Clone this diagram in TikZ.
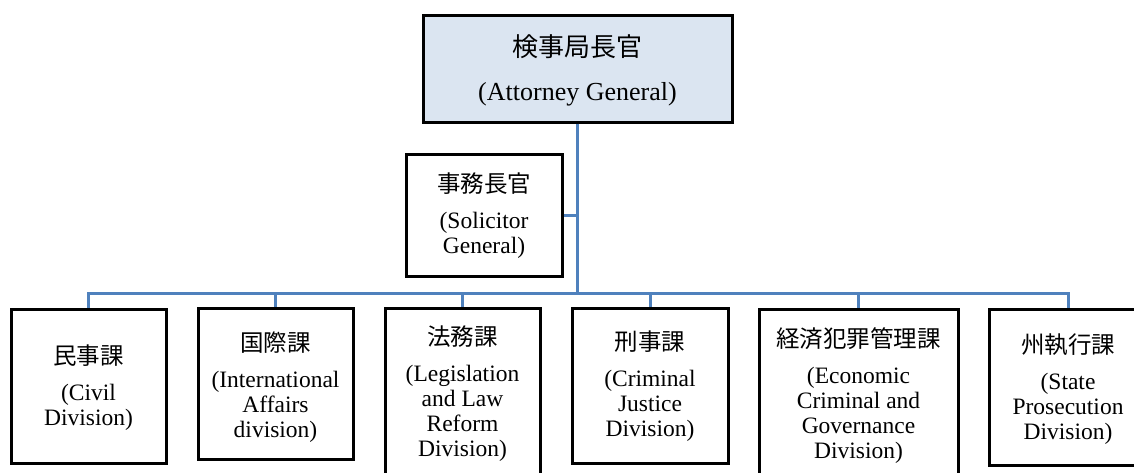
\documentclass[tikz,border=0pt]{standalone}
\usepackage{fontspec}
\setmainfont{Liberation Serif}
\newfontfamily\cjk{Noto Sans CJK JP}
\definecolor{linkblue}{HTML}{4F81BD}
\definecolor{topfill}{HTML}{DBE5F1}
\begin{document}
\begin{tikzpicture}[x=1pt,y=-1pt,
  box/.style={draw=black,line width=3pt,rectangle,inner sep=0pt,fill=white},
  lbl/.style={align=center,font=\fontsize{23.5}{25}\selectfont,inner sep=0pt},
  toplbl/.style={align=center,font=\fontsize{26}{28}\selectfont,inner sep=0pt},
  conn/.style={draw=linkblue,line width=3pt}]
\clip (0,0) rectangle (1134,472);
% boxes
\node[box,fill=topfill,minimum width=309pt,minimum height=107pt] (ag) at (577.5,68.5) {};
\node[box,minimum width=156pt,minimum height=122pt] (sg) at (484,215) {};
\node[box,minimum width=155pt,minimum height=154pt] (b1) at (88.5,386) {};
\node[box,minimum width=155pt,minimum height=151pt] (b2) at (275.5,383.5) {};
\node[box,minimum width=155pt,minimum height=177pt] (b3) at (462.5,396.5) {};
\node[box,minimum width=156pt,minimum height=155pt] (b4) at (650,385.5) {};
\node[box,minimum width=199pt,minimum height=176pt] (b5) at (858.5,397) {};
\node[box,minimum width=158pt,minimum height=156pt] (b6) at (1068,387) {};
% connectors
\coordinate (bus) at (577.5,293);
\draw[conn] (ag.south) -- (bus);
\draw[conn] (sg.east) -- (sg.east -| ag.south);
\foreach \b in {b1,b2,b3,b4,b5,b6} \draw[conn] (bus) -| (\b.north);
% labels
\node[toplbl] (agt) at (577.5,70) {{\cjk 検事局長官}\\[16pt](Attorney General)};
\node[lbl] (sgt) at (484,216) {{\cjk 事務長官}\\[11pt](Solicitor\\General)};
\node[lbl] (t1) at (88.5,387.5) {{\cjk 民事課}\\[11pt](Civil\\Division)};
\node[lbl] (t2) at (275.5,387.5) {{\cjk 国際課}\\[11pt](International\\Affairs\\division)};
\node[lbl] (t3) at (462.5,393.5) {{\cjk 法務課}\\[11pt](Legislation\\and Law\\Reform\\Division)};
\node[lbl] (t4) at (650,386.5) {{\cjk 刑事課}\\[11pt](Criminal\\Justice\\Division)};
\node[lbl] (t5) at (858.5,395.5) {{\cjk 経済犯罪管理課}\\[11pt](Economic\\Criminal and\\Governance\\Division)};
\node[lbl] (t6) at (1068,389) {{\cjk 州執行課}\\[11pt](State\\Prosecution\\Division)};
\end{tikzpicture}
\end{document}
